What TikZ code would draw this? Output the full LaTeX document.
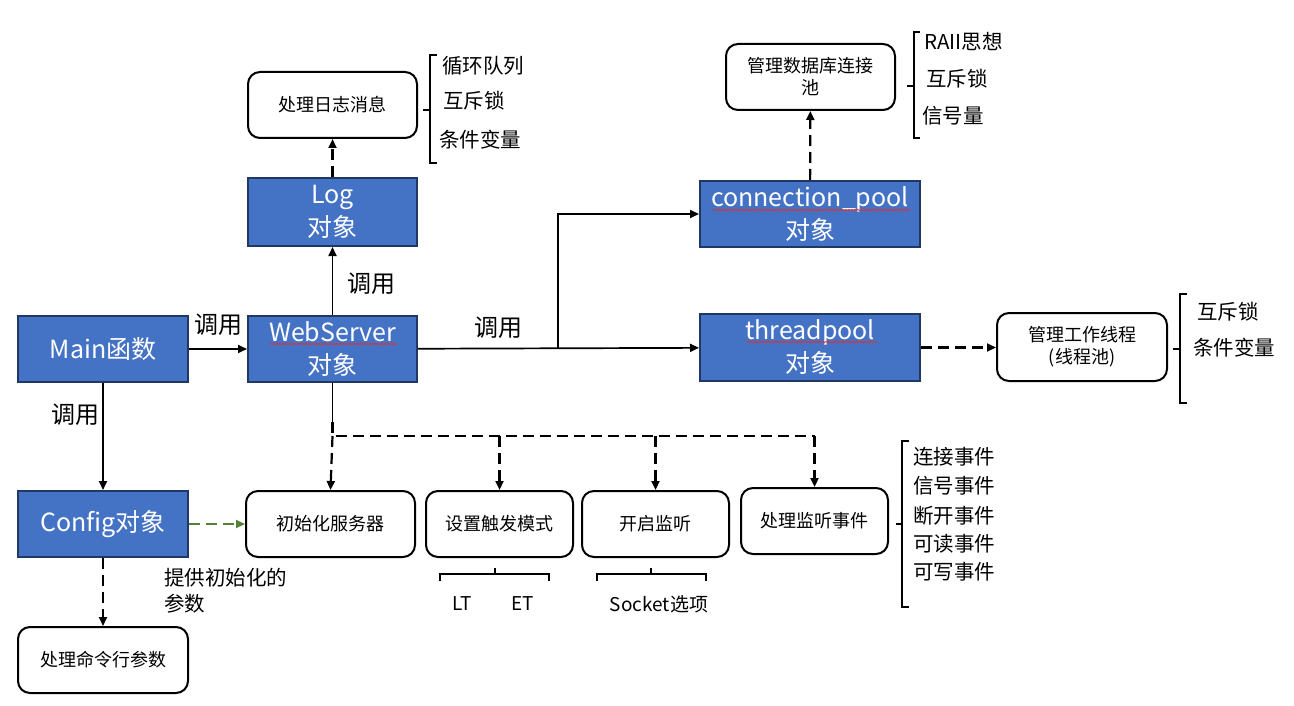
\documentclass[tikz,border=0pt]{standalone}
\usepackage{fontspec}
\setmainfont{Noto Sans CJK SC}
\usetikzlibrary{arrows.meta,decorations.pathmorphing}
\definecolor{boxblue}{HTML}{4472C4}
\definecolor{boxedge}{HTML}{203864}
\definecolor{grn}{HTML}{548235}
\definecolor{spell}{HTML}{E03030}
\tikzset{
  obj/.style={draw=boxedge, line width=2pt, fill=boxblue, text=white, font=\fontsize{25}{33}\selectfont, align=center, inner sep=0pt},
  task/.style={draw=black, line width=2pt, rounded corners=12pt, fill=white, font=\fontsize{18}{22}\selectfont, align=center, inner sep=0pt},
  lbl/.style={font=\fontsize{24}{28}\selectfont, inner sep=0pt},
  itm/.style={font=\fontsize{20.5}{24}\selectfont, inner sep=0pt, anchor=west},
  sub/.style={font=\fontsize{19}{22}\selectfont, inner sep=0pt},
  conn/.style={line width=1.7pt, -{Triangle[length=9pt,width=8pt]}},
  plain/.style={line width=1.7pt},
  dashline/.style={line width=2.2pt, dash pattern=on 11pt off 6pt},
  brk/.style={line width=1.5pt},
  wavy/.style={spell, line width=0.7pt, decorate, decoration={snake, amplitude=0.8pt, segment length=3pt}}
}
\begin{document}
\begin{tikzpicture}[x=1pt,y=-1pt]
\useasboundingbox (0,0) rectangle (1294,706);
% objects
\node[obj, minimum width=170pt, minimum height=66pt] (main) at (103,349) {Main函数};
\node[obj, minimum width=169pt, minimum height=66pt] (web) at (332.5,349) {WebServer\\对象};
\node[obj, minimum width=169pt, minimum height=68pt] (log) at (332.5,212) {Log\\对象};
\node[obj, minimum width=220pt, minimum height=66pt] (cp) at (810,214) {connection\_pool\\对象};
\node[obj, minimum width=220pt, minimum height=67pt] (tp) at (810,347.5) {threadpool\\对象};
\node[obj, minimum width=170pt, minimum height=66pt] (cfg) at (103,524) {Config对象};
% spell-check underlines
\draw[wavy] (270,344) -- (397,344);
\draw[wavy] (713,210) -- (910,210);
\draw[wavy] (747,342) -- (877,342);
% tasks
\node[task, minimum width=169pt, minimum height=66pt] (logmsg) at (332.5,105) {处理日志消息};
\node[task, minimum width=169pt, minimum height=66pt] (dbpool) at (810.5,77) {管理数据库连接\\池};
\node[task, minimum width=170pt, minimum height=68pt] (worker) at (1082,347) {管理工作线程\\(线程池)};
\node[task, minimum width=170pt, minimum height=66pt] (cmd) at (103,660) {处理命令行参数};
\node[task, minimum width=169pt, minimum height=66pt] (init) at (330.5,524) {初始化服务器};
\node[task, minimum width=147pt, minimum height=66pt] (trig) at (499.5,524) {设置触发模式};
\node[task, minimum width=147pt, minimum height=66pt] (listen) at (655.5,524) {开启监听};
\node[task, minimum width=147pt, minimum height=66pt] (events) at (814.5,521) {处理监听事件};
% connectors
\draw[conn] (main) -- (web);
\draw[conn] (main) -- (cfg);
\draw[conn] (web) -- (log);
\draw[conn, dashline] (log) -- (logmsg);
\draw[conn] (web) -- (tp);
\coordinate (split) at (558,349);
\draw[conn] (split) |- (cp);
\draw[conn, dashline] (cp) -- (dbpool);
\draw[conn, dashline] (tp.east) -- (worker.west |- tp.east);
\draw[conn, dashline, grn] (cfg) -- (init);
\draw[conn, dashline] (cfg) -- (cmd);
\coordinate (bus) at (332.5,436);
\coordinate (busend) at (814.5,436);
\draw[plain] (web.south) -- (332.5,422);
\draw[dashline] (332.5,422) -- (bus) -- (busend);
\draw[conn, dashline] (bus) -- (init.north);
\draw[conn, dashline] (trig.north |- bus) -- (trig.north);
\draw[conn, dashline] (listen.north |- bus) -- (listen.north);
\draw[conn, dashline] (busend) -- (events.north);
% labels
\node[lbl] (l1) at (218,325) {调用};
\node[lbl] (l2) at (75,415) {调用};
\node[lbl] (l3) at (371,284) {调用};
\node[lbl] (l4) at (498,328) {调用};
\node[itm] (prov1) at (164,578) {提供初始化的};
\node[itm] (prov2) at (164,604) {参数};
% brace 1
\draw[brk] (437,55) -- (430,55) -- (430,163) -- (437,163);
\draw[brk] (423,110) -- (430,110);
\node[itm] at (442,66) {循环队列};
\node[itm] at (443,101) {互斥锁};
\node[itm] at (439,140) {条件变量};
% brace 2
\draw[brk] (920,32) -- (914,32) -- (914,138) -- (920,138);
\draw[brk] (907,86) -- (914,86);
\node[itm] at (924,42) {RAII思想};
\node[itm] at (926,79) {互斥锁};
\node[itm] at (922,116) {信号量};
% brace 3
\draw[brk] (1187,294) -- (1180,294) -- (1180,403) -- (1187,403);
\draw[brk] (1173,349) -- (1180,349);
\node[itm] at (1197,312) {互斥锁};
\node[itm] at (1193,348) {条件变量};
% brace 4
\draw[brk] (909,441) -- (902,441) -- (902,607) -- (909,607);
\draw[brk] (896,524) -- (902,524);
\node[itm] at (913,457) {连接事件};
\node[itm] at (913,486) {信号事件};
\node[itm] at (913,516) {断开事件};
\node[itm] at (913,544) {可读事件};
\node[itm] at (913,572) {可写事件};
% LT/ET bracket
\draw[brk] (440,581) -- (440,574) -- (549,574) -- (549,581);
\draw[brk] (495,568) -- (495,574);
\node[sub] at (462,604) {LT};
\node[sub] at (523,604) {ET};
% socket bracket
\draw[brk] (597,581) -- (597,574) -- (706,574) -- (706,581);
\draw[brk] (651,568) -- (651,574);
\node[sub] at (659,604) {Socket选项};
\end{tikzpicture}
\end{document}
